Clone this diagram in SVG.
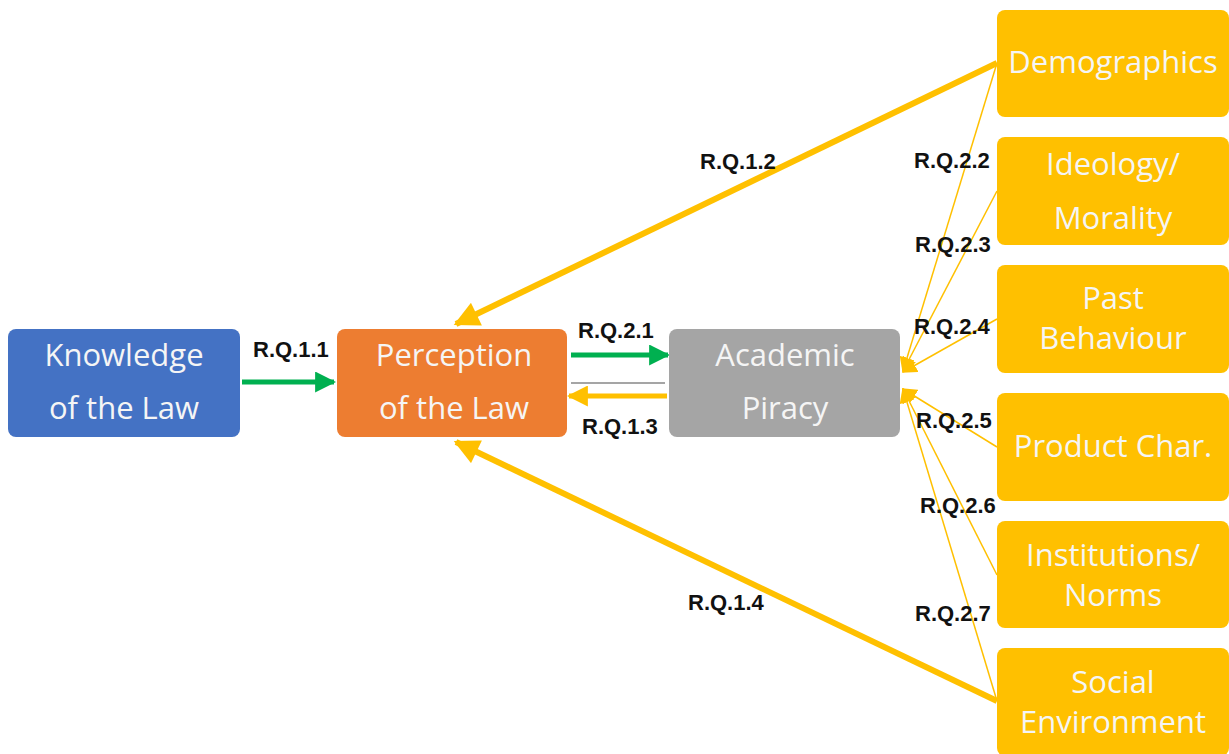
<svg xmlns="http://www.w3.org/2000/svg" width="1229" height="754" viewBox="0 0 1229 754">
<style>
.box{stroke:none}
.bt{font-family:"Open Sans","Liberation Sans",sans-serif;font-size:31px;fill:#F5F5F5;text-anchor:middle}
.lbl{font-family:"Liberation Sans",Arial,sans-serif;font-weight:bold;font-size:22px;fill:#111}
.thick{stroke:#FFC000;stroke-width:6;fill:none}
.thin{stroke:#FFC000;stroke-width:1.5;fill:none}
.green{stroke:#00B050;stroke-width:5;fill:none}
</style>
<defs>
<marker id="ag" viewBox="0 0 10 10" refX="9" refY="5" markerWidth="4.2" markerHeight="4.2" orient="auto" markerUnits="strokeWidth"><path d="M0,0 L10,5 L0,10 z" fill="#00B050"/></marker>
<marker id="ay" viewBox="0 0 10 10" refX="9" refY="5" markerWidth="4.2" markerHeight="4.2" orient="auto" markerUnits="strokeWidth"><path d="M0,0 L10,5 L0,10 z" fill="#FFC000"/></marker>
<marker id="ayb" viewBox="0 0 10 10" refX="9" refY="5" markerWidth="4.5" markerHeight="4.2" orient="auto" markerUnits="strokeWidth"><path d="M0,0 L10,5 L0,10 z" fill="#FFC000"/></marker>
<marker id="ays" viewBox="0 0 10 10" refX="9" refY="5" markerWidth="10" markerHeight="10" orient="auto" markerUnits="strokeWidth"><path d="M0,0 L10,5 L0,10 z" fill="#FFC000"/></marker>
</defs>
<rect width="1229" height="754" fill="#fff"/>
<g id="connectors">
<line class="thin" x1="997" y1="63" x2="903" y2="371" marker-end="url(#ays)"/>
<line class="thin" x1="997" y1="191" x2="903" y2="371" marker-end="url(#ays)"/>
<line class="thin" x1="997" y1="319" x2="903" y2="372" marker-end="url(#ays)"/>
<line class="thin" x1="997" y1="447" x2="903" y2="389" marker-end="url(#ays)"/>
<line class="thin" x1="997" y1="575" x2="903" y2="389" marker-end="url(#ays)"/>
<line class="thin" x1="997" y1="701" x2="903" y2="389" marker-end="url(#ays)"/>
<line class="thick" x1="997" y1="63" x2="456" y2="324" marker-end="url(#ayb)"/>
<line class="thick" x1="997" y1="701" x2="456" y2="442" marker-end="url(#ayb)"/>
<line class="green" x1="242" y1="382" x2="334" y2="382" marker-end="url(#ag)"/>
<line class="green" x1="571" y1="355" x2="668" y2="355" marker-end="url(#ag)"/>
<line x1="571" y1="383" x2="665" y2="383" stroke="#A5A5A5" stroke-width="2"/>
<line x1="667" y1="396" x2="569" y2="396" stroke="#FFC000" stroke-width="5" marker-end="url(#ay)"/>
</g>
<g id="knowledge"><rect class="box" x="8" y="329" width="232" height="108" rx="8" fill="#4472C4"/><text class="bt" x="124" y="366">Knowledge</text><text class="bt" x="124" y="419">of the Law</text></g>
<g id="perception"><rect class="box" x="337" y="329" width="230" height="108" rx="8" fill="#ED7D31"/><text class="bt" x="454" y="366">Perception</text><text class="bt" x="454" y="419">of the Law</text></g>
<g id="piracy"><rect class="box" x="669" y="329" width="231" height="108" rx="8" fill="#A5A5A5"/><text class="bt" x="785" y="366">Academic</text><text class="bt" x="785" y="419">Piracy</text></g>
<g id="demographics"><rect class="box" x="997" y="10" width="232" height="107" rx="8" fill="#FFC000"/><text class="bt" x="1113" y="73">Demographics</text></g>
<g id="ideology"><rect class="box" x="997" y="137" width="232" height="108" rx="8" fill="#FFC000"/><text class="bt" x="1113" y="175">Ideology/</text><text class="bt" x="1113" y="229">Morality</text></g>
<g id="past"><rect class="box" x="997" y="265" width="232" height="108" rx="8" fill="#FFC000"/><text class="bt" x="1113" y="309">Past</text><text class="bt" x="1113" y="349">Behaviour</text></g>
<g id="product"><rect class="box" x="997" y="393" width="232" height="108" rx="8" fill="#FFC000"/><text class="bt" x="1113" y="457">Product Char.</text></g>
<g id="institutions"><rect class="box" x="997" y="521" width="232" height="107" rx="8" fill="#FFC000"/><text class="bt" x="1113" y="566">Institutions/</text><text class="bt" x="1113" y="606">Norms</text></g>
<g id="social"><rect class="box" x="997" y="648" width="232" height="108" rx="8" fill="#FFC000"/><text class="bt" x="1113" y="693">Social</text><text class="bt" x="1113" y="733">Environment</text></g>
<g id="labels">
<text class="lbl" x="253" y="357">R.Q.1.1</text>
<text class="lbl" x="578" y="338">R.Q.2.1</text>
<text class="lbl" x="582" y="434">R.Q.1.3</text>
<text class="lbl" x="700" y="169">R.Q.1.2</text>
<text class="lbl" x="688" y="610">R.Q.1.4</text>
<text class="lbl" x="914" y="168">R.Q.2.2</text>
<text class="lbl" x="915" y="252">R.Q.2.3</text>
<text class="lbl" x="914" y="334">R.Q.2.4</text>
<text class="lbl" x="916" y="428">R.Q.2.5</text>
<text class="lbl" x="920" y="513">R.Q.2.6</text>
<text class="lbl" x="915" y="621">R.Q.2.7</text>
</g>
</svg>
